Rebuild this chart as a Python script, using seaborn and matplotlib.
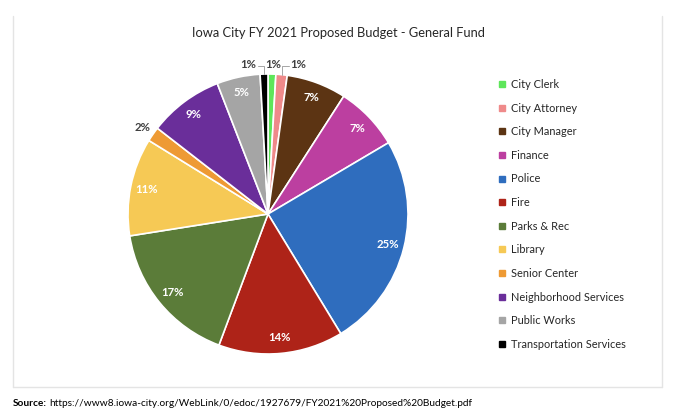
import numpy as np
import matplotlib
matplotlib.use("Agg")
import matplotlib.pyplot as plt
import seaborn as sns
from matplotlib.lines import Line2D

# budget shares (percent of general fund)
departments = ["City Clerk", "City Attorney", "City Manager", "Finance", "Police",
               "Fire", "Parks & Rec", "Library", "Senior Center",
               "Neighborhood Services", "Public Works", "Transportation Services"]
shares = [0.9, 1.3, 6.9, 7.4, 24.8, 14.4, 16.8, 11.3, 1.7, 8.6, 5.0, 0.9]
colors = ["#5EE65A", "#EF8A8A", "#5C3413", "#BC3FA0", "#2F6DBE", "#AE2318",
          "#5B7C39", "#F6C955", "#EE9A34", "#6A2E9A", "#A5A5A5", "#000000"]

title = "Iowa City FY 2021 Proposed Budget - General Fund"
source_url = "https://www8.iowa-city.org/WebLink/0/edoc/1927679/FY2021%20Proposed%20Budget.pdf"

sns.set_theme(style="white")
plt.rcParams["font.family"] = ["Lato", "DejaVu Sans"]
palette = sns.color_palette(colors)

W, H = 680, 417
fig = plt.figure(figsize=(W / 100, H / 100), dpi=100)

# pie axes: center (268, 214) px, radius 140 px
cx, cy, r = 268, 214, 140
ax = fig.add_axes([(cx - r) / W, (H - cy - r) / H, 2 * r / W, 2 * r / H])

total = sum(shares)
wedges, _ = ax.pie(shares, colors=palette, startangle=90, counterclock=False,
                   wedgeprops=dict(edgecolor="white", linewidth=1.2))
ax.set_xlim(-1, 1)
ax.set_ylim(-1, 1)
ax.set_aspect("equal")
ax.axis("off")

# labels: tiny slices at the top get spread-out labels with leader lines
small_pos = {"Transportation Services": (-0.085, "right"),
             "City Clerk": (0.036, "center"),
             "City Attorney": (0.16, "left")}
label_y = 1.07
for w, name, val in zip(wedges, departments, shares):
    pct = f"{round(val / total * 100):.0f}%"
    mid = np.deg2rad((w.theta1 + w.theta2) / 2)
    mx, my = np.cos(mid), np.sin(mid)
    if name in small_pos:
        lx, ha = small_pos[name]
        ax.text(lx, label_y, pct, ha=ha, va="center", fontsize=8.2, fontweight="bold",
                color="#404040", clip_on=False)
        if name != "City Clerk":
            end_x = lx + 0.015 if ha == "right" else lx - 0.01
            ax.plot([mx, mx, end_x], [my, label_y - 0.01, label_y - 0.01],
                    color="#A6A6A6", lw=0.7, clip_on=False)
    elif val < 3:
        ax.text(1.09 * mx, 1.09 * my, pct, ha="center", va="center", fontsize=8.2,
                fontweight="bold", color="#404040", clip_on=False)
    else:
        ax.text(0.885 * mx, 0.885 * my, pct, ha="center", va="center", fontsize=8.2,
                fontweight="bold", color="white")

# chart frame (no top edge)
for xs, ys in [([13, 13], [16, 387]), ([662, 662], [16, 387]), ([13, 662], [387, 387])]:
    fig.add_artist(Line2D([x / W for x in xs], [1 - y / H for y in ys],
                          color="#E4E4E4", lw=1.0))

fig.text(338 / W, 1 - 33 / H, title, ha="center", va="center", fontsize=9.3, color="#262626")

handles = [Line2D([], [], marker="s", ls="", markersize=4.5, color=c) for c in palette]
fig.legend(handles, departments, loc="upper left", bbox_to_anchor=(499 / W, 1 - 79 / H),
           frameon=False, fontsize=7.9, handlelength=0.6, handletextpad=0.5,
           labelspacing=1.15, borderaxespad=0, borderpad=0, labelcolor="#262626")

src = fig.text(13 / W, 1 - 403 / H, "Source:", ha="left", va="center", fontsize=7.3,
               fontweight="bold", color="black")
ax.annotate(source_url, xy=(1, 0.5), xycoords=src, xytext=(1.5, 0), textcoords="offset points",
            ha="left", va="center", fontsize=7.3, color="black", annotation_clip=False)

fig.savefig("out.png", dpi=100, facecolor="white")
